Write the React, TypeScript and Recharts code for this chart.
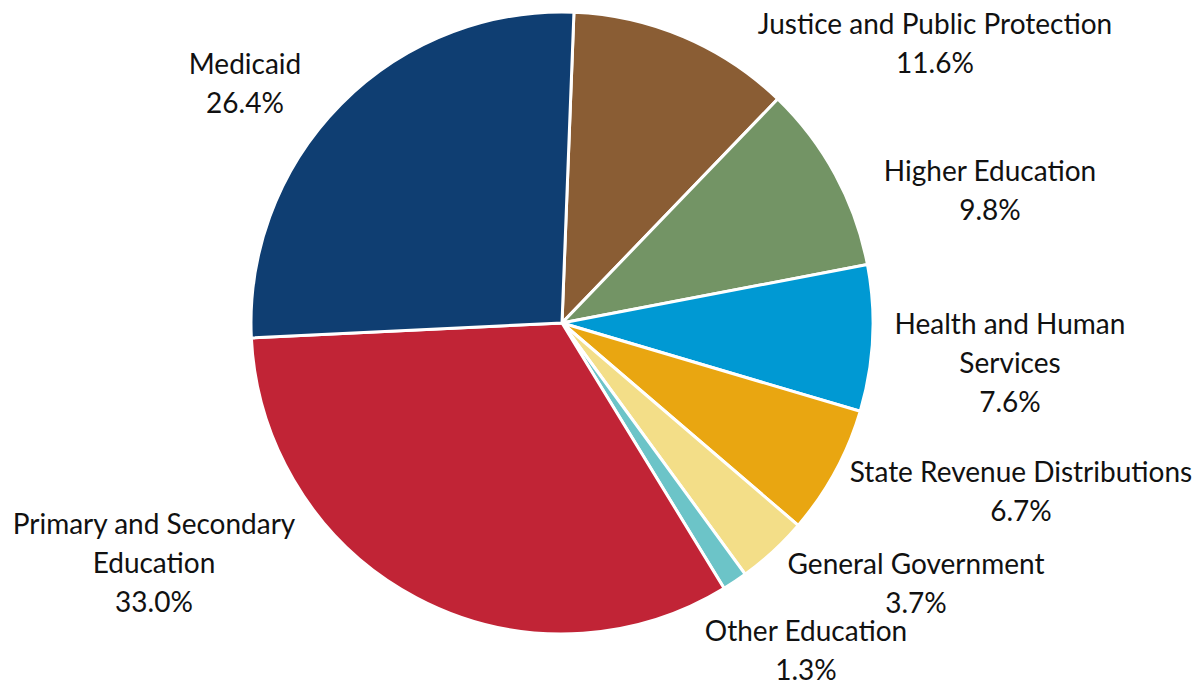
import React from 'react';
import { PieChart, Pie, Cell } from 'recharts';

const categories = [
  'Justice and Public Protection',
  'Higher Education',
  'Health and Human Services',
  'State Revenue Distributions',
  'General Government',
  'Other Education',
  'Primary and Secondary Education',
  'Medicaid',
];

const shares = [11.6, 9.8, 7.6, 6.7, 3.7, 1.3, 33.0, 26.4];

// how each label is broken into lines
const labelLines = [
  ['Justice and Public Protection'],
  ['Higher Education'],
  ['Health and Human', 'Services'],
  ['State Revenue Distributions'],
  ['General Government'],
  ['Other Education'],
  ['Primary and Secondary', 'Education'],
  ['Medicaid'],
];

const COLORS = ['#8a5d34', '#739465', '#0099d3', '#e9a611', '#f3de88', '#6cc4c8', '#c12436', '#0f3e72'];

// label block offsets from the pie centre (first line centre)
const LABEL_OFFSETS: [number, number][] = [
  [373, -300],
  [428, -153],
  [448, 0],
  [459, 148],
  [354, 240],
  [244, 307],
  [-408, 200],
  [-317, -260],
];

const data = categories.map((name, i) => ({ name, value: shares[i] }));

const FONT = 'Lato, "Open Sans", sans-serif';

const renderLabel = (props: any) => {
  const { cx, cy, index } = props;
  const [dx, dy] = LABEL_OFFSETS[index];
  const lines = [...labelLines[index], `${shares[index].toFixed(1)}%`];
  return (
    <text
      x={cx + dx}
      y={cy + dy}
      textAnchor="middle"
      fill="#111"
      fontSize={28}
      fontFamily={FONT}
    >
      {lines.map((line, i) => (
        <tspan key={i} x={cx + dx} y={cy + dy + i * 39} dominantBaseline="central">
          {line}
        </tspan>
      ))}
    </text>
  );
};

export default function App() {
  return (
    <div style={{ position: 'absolute', left: 0, top: 0, background: '#fff' }}>
      <PieChart width={1202} height={686} margin={{ top: 0, right: 0, bottom: 0, left: 0 }}>
        <Pie
          data={data}
          dataKey="value"
          nameKey="name"
          cx={562}
          cy={323}
          outerRadius={311}
          startAngle={87.8}
          endAngle={-272.2}
          stroke="#fff"
          strokeWidth={3}
          label={renderLabel}
          labelLine={false}
          isAnimationActive={false}
        >
          {data.map((entry, index) => (
            <Cell key={`cell-${index}`} fill={COLORS[index]} />
          ))}
        </Pie>
      </PieChart>
    </div>
  );
}
